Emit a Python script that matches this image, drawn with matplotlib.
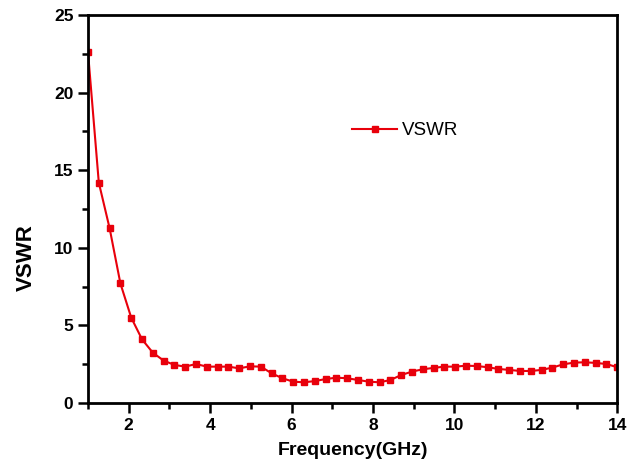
import matplotlib

matplotlib.use("Agg")
import matplotlib.pyplot as plt  # noqa: E402
import numpy as np  # noqa: E402
from matplotlib.ticker import MultipleLocator  # noqa: E402

plt.rcParams["font.family"] = ["Liberation Sans", "DejaVu Sans"]

# frequency sweep, 50 points between 1 and 14 GHz
freq = np.linspace(1.0, 14.0, 50)
vswr = [
    22.6, 14.2, 11.26, 7.7, 5.5, 4.1, 3.24, 2.73, 2.45, 2.34,
    2.51, 2.34, 2.34, 2.34, 2.23, 2.36, 2.34, 1.91, 1.59, 1.37,
    1.33, 1.41, 1.54, 1.63, 1.59, 1.48, 1.37, 1.33, 1.48, 1.80,
    2.02, 2.17, 2.26, 2.34, 2.34, 2.40, 2.38, 2.30, 2.19, 2.13,
    2.06, 2.06, 2.13, 2.28, 2.49, 2.60, 2.62, 2.58, 2.51, 2.30,
]

fig = plt.figure(figsize=(6.4, 4.68), dpi=100)
ax = fig.add_axes([0.1375, 0.139, 0.827, 0.829])

ax.plot(freq, vswr, color="#e8000b", lw=1.5, marker="s", ms=5,
        mec="#e8000b", mfc="#e8000b", label="VSWR")

ax.set_xlim(1, 14)
ax.set_ylim(0, 25)
ax.xaxis.set_major_locator(MultipleLocator(2))
ax.xaxis.set_minor_locator(MultipleLocator(1))
ax.yaxis.set_major_locator(MultipleLocator(5))
ax.yaxis.set_minor_locator(MultipleLocator(2.5))
ax.tick_params(which="both", direction="out", width=1.8, top=False, right=False)
ax.tick_params(which="major", length=7, labelsize=12.5)
ax.tick_params(which="minor", length=4)
for lab in ax.get_xticklabels() + ax.get_yticklabels():
    lab.set_fontweight("bold")
for sp in ax.spines.values():
    sp.set_linewidth(2)

ax.set_xlabel("Frequency(GHz)", fontsize=14, fontweight="bold", labelpad=7)
ax.set_ylabel("VSWR", fontsize=16, fontweight="bold", labelpad=12, y=0.375)

ax.legend(loc="upper left", bbox_to_anchor=(0.467, 0.767), frameon=False,
          fontsize=13.5, handlelength=2.4, handletextpad=0.25)

fig.savefig("out.png", dpi=100)
plt.close(fig)
